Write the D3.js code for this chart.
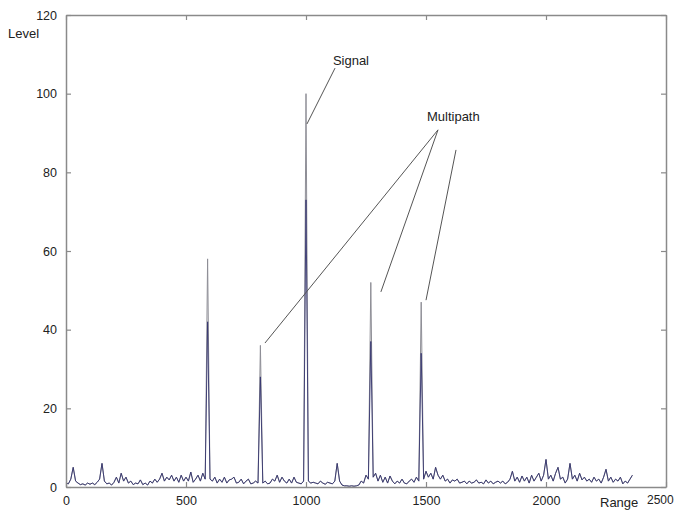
<!DOCTYPE html>
<html>
<head>
<meta charset="utf-8">
<script src="https://cdn.jsdelivr.net/npm/d3@7/dist/d3.min.js"></script>
<style>
  html, body { margin: 0; padding: 0; background: #fff; }
  svg { display: block; font-family: "Liberation Sans", Arial, sans-serif; }
</style>
</head>
<body>
<svg id="chart" width="681" height="510"></svg>
<script>
// Received level versus range, sampled every 10 range units starting at 0
const rangeStep = 10;
const levels = [
  1, 0.8, 2, 5, 1.5, 1, 0.6, 0.8, 0.5, 1,
  0.7, 1, 0.6, 1.2, 2, 6, 1.5, 0.8, 1, 0.5,
  1.2, 2.5, 1, 3.5, 1.5, 2.5, 1, 1.5, 0.6, 1,
  0.8, 1.8, 0.6, 1, 0.5, 1.5, 1, 2, 1.2, 2,
  3.5, 1.5, 2.5, 1.8, 3, 1.5, 2.5, 1.2, 3, 1.5,
  2.5, 1.5, 3.8, 1.2, 2, 3, 1.5, 3.5, 2, 58,
  2, 1.5, 2.5, 1, 2, 1.2, 2.5, 1, 1.8, 2,
  2.5, 1, 1.2, 2, 0.8, 1.5, 2, 0.8, 1, 1.5,
  1, 36, 1, 1.5, 0.8, 1, 2, 1.5, 3, 1.2,
  2.5, 1.5, 1, 2, 1, 2.5, 1.2, 1, 0.8, 1.5,
  100, 1.5, 1, 1.2, 1, 0.8, 1.5, 1, 0.7, 1.2,
  1, 0.8, 1.5, 6, 1.5, 0.5, 0.3, 0.3, 0.2, 0.3,
  0.2, 0.3, 0.5, 1.5, 1, 3, 2, 52, 2.5, 3.5,
  1.5, 3, 1.2, 2.5, 1, 2.8, 1.5, 0.8, 1.5, 1,
  2, 1, 0.8, 1.5, 2, 1.2, 2.5, 1.5, 47, 2,
  4, 2.5, 3.5, 2, 5, 3, 2, 3, 1.5, 2,
  1, 1.8, 1.5, 2, 1, 1.2, 1.5, 0.8, 1.5, 1,
  1.2, 1.8, 1, 1.2, 0.8, 1.8, 1, 1.5, 0.8, 1.2,
  1.5, 1, 1.5, 0.8, 1.2, 2, 4, 1.5, 2.5, 1.2,
  2.8, 1.5, 2.5, 1, 3, 1.5, 2.5, 3.5, 1.5, 3,
  7, 2, 3, 1.5, 3.5, 5, 2, 2.5, 1, 2,
  6, 2, 3, 1.5, 3.5, 1.8, 2.5, 1.5, 2, 1.2,
  2.5, 1.5, 2, 1, 2.5, 4.5, 1.5, 2.5, 1.2, 2,
  1.5, 2.5, 0.8, 1.5, 1, 2, 3
];

// Level of the dense core of each echo (the darker part of the spike)
const peakRanges = [590, 810, 1000, 1270, 1480];
const peakCores = [42, 28, 73, 37, 34];

// Axis ticks
const xTicks = [0, 500, 1000, 1500, 2000, 2500];
const yTicks = [0, 20, 40, 60, 80, 100, 120];

// Callout labels and their leader lines, in data units
const callouts = [
  { text: "Signal", at: [1112, 107.3] },
  { text: "Multipath", at: [1504, 93] }
];
const leaders = [
  { from: [1121, 106.5], to: [1004, 92.3] },
  { from: [1550, 90.8], to: [829, 36.6] },
  { from: [1550, 90.8], to: [1312, 49.6] },
  { from: [1625, 85.7], to: [1500, 47.5] }
];

const svg = d3.select("#chart");
const margin = { left: 66, right: 15, top: 15, bottom: 23 };
const W = +svg.attr("width"), H = +svg.attr("height");

const x = d3.scaleLinear().domain([0, 2500]).range([margin.left, W - margin.right]);
const y = d3.scaleLinear().domain([0, 120]).range([H - margin.bottom, margin.top]);

const frameColor = "#8a8a8a";
const textColor = "#222";

// Full trace in grey: the tall thin spikes
const line = d3.line()
  .x((d, i) => x(i * rangeStep))
  .y(d => y(d));

svg.append("path")
  .datum(levels)
  .attr("fill", "none")
  .attr("stroke", "#8e8e96")
  .attr("stroke-width", 1)
  .attr("d", line);

// Same trace in navy with each spike stopped at its core level
const coreByRange = new Map(peakRanges.map((r, k) => [r, peakCores[k]]));
const coreTrace = levels.map((v, i) => coreByRange.has(i * rangeStep) ? coreByRange.get(i * rangeStep) : v);

svg.append("path")
  .datum(coreTrace)
  .attr("fill", "none")
  .attr("stroke", "#34346e")
  .attr("stroke-width", 0.9)
  .attr("d", line);

// Axes with inward ticks on every side
const tickLen = 5;
const axisBottom = d3.axisBottom(x).tickValues(xTicks).tickSizeInner(-tickLen).tickSizeOuter(0).tickPadding(9)
  .tickFormat(d => d === 2500 ? "" : d);
const axisTop = d3.axisTop(x).tickValues(xTicks).tickSizeInner(-tickLen).tickSizeOuter(0).tickFormat("");
const axisLeft = d3.axisLeft(y).tickValues(yTicks).tickSizeInner(-tickLen).tickSizeOuter(0).tickPadding(9);
const axisRight = d3.axisRight(y).tickValues(yTicks).tickSizeInner(-tickLen).tickSizeOuter(0).tickFormat("");

function styleAxis(g) {
  g.select(".domain").attr("stroke", frameColor).attr("stroke-width", 1.5);
  g.selectAll(".tick line").attr("stroke", frameColor).attr("stroke-width", 1.2);
  g.selectAll(".tick text").attr("fill", textColor).attr("font-size", 12.5)
    .attr("font-family", "'Liberation Sans', Arial, sans-serif");
}

svg.append("g").attr("transform", `translate(0,${y(0)})`).call(axisBottom).call(styleAxis);
svg.append("g").attr("transform", `translate(0,${y(120)})`).call(axisTop).call(styleAxis);
svg.append("g").attr("transform", `translate(${x(0)},0)`).call(axisLeft).call(styleAxis);
svg.append("g").attr("transform", `translate(${x(2500)},0)`).call(axisRight).call(styleAxis);

// The last x tick label sits beside the axis title
svg.append("text")
  .attr("x", 647).attr("y", y(0) + 17)
  .attr("text-anchor", "start")
  .attr("font-size", 12).attr("fill", textColor)
  .text("2500");

// Axis titles
svg.append("text")
  .attr("x", 8).attr("y", 38)
  .attr("font-size", 13).attr("fill", textColor)
  .text("Level");
svg.append("text")
  .attr("x", 600).attr("y", 507)
  .attr("font-size", 13).attr("fill", textColor)
  .text("Range");

// Leader lines and callout labels
svg.append("g").selectAll("line")
  .data(leaders)
  .join("line")
  .attr("x1", d => x(d.from[0])).attr("y1", d => y(d.from[1]))
  .attr("x2", d => x(d.to[0])).attr("y2", d => y(d.to[1]))
  .attr("stroke", "#555").attr("stroke-width", 1);

svg.append("g").selectAll("text")
  .data(callouts)
  .join("text")
  .attr("x", d => x(d.at[0])).attr("y", d => y(d.at[1]))
  .attr("font-size", 13).attr("fill", textColor)
  .text(d => d.text);
</script>
</body>
</html>
